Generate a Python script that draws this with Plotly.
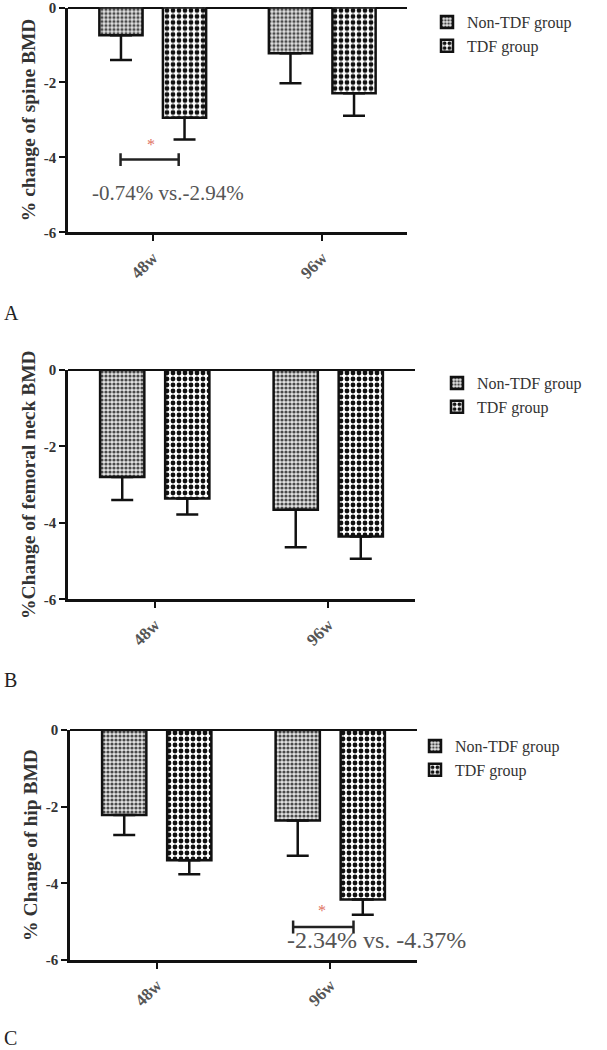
import plotly.graph_objects as go

# ---------------- data ----------------
categories = ["48w", "96w"]
series_names = ["Non-TDF group", "TDF group"]

spine_non = [-0.74, -1.22]
spine_non_err = [0.66, 0.80]
spine_tdf = [-2.94, -2.29]
spine_tdf_err = [0.58, 0.60]

neck_non = [-2.80, -3.66]
neck_non_err = [0.60, 0.98]
neck_tdf = [-3.36, -4.36]
neck_tdf_err = [0.42, 0.58]

hip_non = [-2.22, -2.36]
hip_non_err = [0.52, 0.92]
hip_tdf = [-3.40, -4.42]
hip_tdf_err = [0.36, 0.40]

y_ticks = [0, -2, -4, -6]
y_titles = ["% change of spine BMD", "%Change of femoral neck BMD", "% Change of hip BMD"]
panel_letters = ["A", "B", "C"]
sig_texts = ["-0.74% vs.-2.94%", None, "-2.34% vs. -4.37%"]

# significance brackets (category units, value units)
sig_brackets = [dict(x0=-0.19, x1=0.153, y=-4.06, star_x=-0.01, star_y=-3.65, tx=0.09, ty=-4.95, fs=21),
                None,
                dict(x0=0.786, x1=1.134, y=-5.14, star_x=0.955, star_y=-4.72, tx=1.264, ty=-5.48, fs=24)]

# ---------------- layout helpers ----------------
W, H = 607, 1050
SERIF = "Liberation Serif, Times New Roman, serif"


def clamp(v):
    return max(0.0, min(1.0, v))


def px(xp):
    return clamp(xp / W)


def py(yp):
    return clamp(1 - yp / H)


panels = [
    dict(x0=68, x1=407, ytop=7.5, ybot=232.3, legend_x=427, legend_y=5, letter_y=313),
    dict(x0=68, x1=415, ytop=370, ybot=599.3, legend_x=437, legend_y=366, letter_y=680),
    dict(x0=70, x1=417, ytop=730, ybot=960, legend_x=415, legend_y=729, letter_y=1038),
]
data_sets = [
    (spine_non, spine_non_err, spine_tdf, spine_tdf_err),
    (neck_non, neck_non_err, neck_tdf, neck_tdf_err),
    (hip_non, hip_non_err, hip_tdf, hip_tdf_err),
]

non_pattern = dict(shape=".", size=4, solidity=0.5, fgcolor="#4a4a4a", bgcolor="#e2e2e2", fillmode="replace")
tdf_pattern = dict(shape=".", size=6, solidity=0.5, fgcolor="#111111", bgcolor="#ffffff", fillmode="replace")

fig = go.Figure()
layout = dict(
    width=W, height=H,
    margin=dict(l=0, r=0, t=0, b=0, autoexpand=False),
    paper_bgcolor="white", plot_bgcolor="white",
    barmode="overlay",
    font=dict(family=SERIF, color="#222222"),
    annotations=[], shapes=[],
)

for i, (p, ds) in enumerate(zip(panels, data_sets)):
    n = "" if i == 0 else str(i + 1)
    xa, ya = f"x{n}", f"y{n}"
    legname = "legend" if i == 0 else f"legend{i+1}"
    non, non_err, tdf, tdf_err = ds
    for name, vals, errs, pat, off in [
        (series_names[0], non, non_err, non_pattern, -0.315),
        (series_names[1], tdf, tdf_err, tdf_pattern, 0.06),
    ]:
        fig.add_trace(go.Bar(
            x=categories, y=vals, name=name, xaxis=xa, yaxis=ya,
            width=0.255, offset=off,
            marker=dict(color="white", pattern=pat, line=dict(color="#111111", width=2.5)),
            error_y=dict(type="data", symmetric=False, array=[0] * len(errs), arrayminus=errs,
                         color="#111111", thickness=2.5, width=11),
            legend=legname,
        ))
    layout[f"xaxis{n}"] = dict(
        domain=[px(p["x0"]), px(p["x1"])], anchor=ya, type="category", range=[-0.5, 1.5],
        showline=True, linecolor="#111111", linewidth=2.5, automargin=False,
        ticks="outside", ticklen=6, tickwidth=2, tickcolor="#111111",
        tickangle=-45, tickfont=dict(family=SERIF, size=17, color="#555555", weight="bold"),
        showgrid=False, zeroline=False, fixedrange=True,
    )
    layout[f"yaxis{n}"] = dict(
        domain=[py(p["ybot"]), py(p["ytop"])], anchor=xa, range=[-6, 0],
        tickvals=y_ticks, ticktext=[str(v) for v in y_ticks], automargin=False,
        ticklabeloverflow="allow",
        showline=True, linecolor="#111111", linewidth=2.5,
        ticks="outside", ticklen=6, tickwidth=2, tickcolor="#111111",
        tickfont=dict(family=SERIF, size=15, color="#333333", weight="bold"),
        showgrid=False, zeroline=True, zerolinecolor="#111111", zerolinewidth=2,
        title=dict(text=y_titles[i], font=dict(family=SERIF, size=19.5, color="#333333", weight="bold"),
                   standoff=3),
        fixedrange=True,
    )
    layout[legname] = dict(
        x=px(p["legend_x"]), y=py(p["legend_y"]), xanchor="left", yanchor="top",
        font=dict(family=SERIF, size=16, color="#333333"),
        bgcolor="rgba(0,0,0,0)", tracegroupgap=0, itemwidth=30,
    )
    layout["annotations"].append(dict(
        text=panel_letters[i], x=px(2), y=py(p["letter_y"]), xref="paper", yref="paper",
        xanchor="left", yanchor="middle", showarrow=False,
        font=dict(family=SERIF, size=20, color="#222222"),
    ))
    b = sig_brackets[i]
    if b is not None:
        cap = 0.17
        for sh in [
            dict(x0=b["x0"], x1=b["x1"], y0=b["y"], y1=b["y"]),
            dict(x0=b["x0"], x1=b["x0"], y0=b["y"] - cap, y1=b["y"] + cap),
            dict(x0=b["x1"], x1=b["x1"], y0=b["y"] - cap, y1=b["y"] + cap),
        ]:
            layout["shapes"].append(dict(type="line", xref=xa, yref=ya,
                                         line=dict(color="#222222", width=2.5), **sh))
        layout["annotations"].append(dict(
            text="*", x=b["star_x"], y=b["star_y"], xref=xa, yref=ya, showarrow=False,
            font=dict(family=SERIF, size=16, color="#e07060"),
        ))
        layout["annotations"].append(dict(
            text=sig_texts[i], x=b["tx"], y=b["ty"], xref=xa, yref=ya, showarrow=False,
            font=dict(family=SERIF, size=b["fs"], color="#555555"),
        ))

fig.update_layout(**layout)
fig.write_html("out.html", config={"displayModeBar": False},
               post_script="document.body.style.margin='0';")
